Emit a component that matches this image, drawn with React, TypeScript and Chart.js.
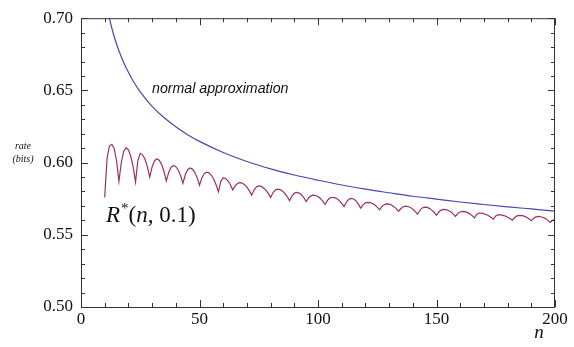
import React, { useEffect, useRef } from 'react';
import { Chart, registerables } from 'chart.js';

Chart.register(...registerables);

// R*(n, 0.1): one value per integer n, starting at n = 10
const rStarStartN = 10;
const rStarRate = [
  0.576, 0.603, 0.6115, 0.6127, 0.6098, 0.6013, 0.587, 0.5999, 0.6077, 0.6103,
  0.6088, 0.6044, 0.597, 0.5866, 0.6014, 0.6064, 0.6054, 0.6023, 0.5972, 0.590,
  0.597, 0.6012, 0.6026, 0.6016, 0.5988, 0.594, 0.5873, 0.5932, 0.5968, 0.598,
  0.5972, 0.5949, 0.5911, 0.5857, 0.5916, 0.5951, 0.5963, 0.5955, 0.5933, 0.5896,
  0.5843, 0.5894, 0.5924, 0.5934, 0.5929, 0.5912, 0.5885, 0.5847, 0.5798, 0.5871,
  0.5895, 0.589, 0.5874, 0.5848, 0.5811, 0.5839, 0.5855, 0.5861, 0.5858, 0.5847,
  0.583, 0.5806, 0.5775, 0.581, 0.5831, 0.5838, 0.5835, 0.5825, 0.581, 0.5787,
  0.5759, 0.5791, 0.581, 0.5816, 0.5813, 0.5803, 0.5787, 0.5765, 0.5736, 0.5768,
  0.5787, 0.5793, 0.5789, 0.5777, 0.5758, 0.573, 0.5755, 0.577, 0.5775, 0.5772,
  0.5765, 0.5752, 0.5733, 0.571, 0.5738, 0.5754, 0.576, 0.5757, 0.575, 0.5737,
  0.5718, 0.5695, 0.5727, 0.5746, 0.5752, 0.5748, 0.5735, 0.5714, 0.5685, 0.5707,
  0.5721, 0.5725, 0.5723, 0.5717, 0.5706, 0.5692, 0.5673, 0.5696, 0.5709, 0.5714,
  0.5712, 0.5706, 0.5695, 0.5681, 0.5662, 0.5682, 0.5694, 0.5698, 0.5696, 0.5689,
  0.5678, 0.5662, 0.5642, 0.567, 0.5686, 0.5692, 0.569, 0.5683, 0.5671, 0.5656,
  0.5635, 0.5658, 0.5671, 0.5676, 0.5674, 0.5668, 0.5659, 0.5645, 0.5628, 0.5647,
  0.5658, 0.5662, 0.566, 0.5655, 0.5646, 0.5633, 0.5617, 0.5643, 0.5651, 0.565,
  0.5646, 0.564, 0.5632, 0.5621, 0.5608, 0.5631, 0.5639, 0.5638, 0.5635, 0.563,
  0.5622, 0.5613, 0.5601, 0.562, 0.5631, 0.5635, 0.5633, 0.5629, 0.5621, 0.5611,
  0.5597, 0.5614, 0.5624, 0.5627, 0.5625, 0.562, 0.5612, 0.56, 0.5585, 0.56,
  0.561,
];

// normal approximation
const normalN = [11, 12, 13, 14, 15, 16, 18, 20, 22, 25, 30, 35, 40, 45, 50, 60, 70, 80, 90, 100, 110, 120, 130, 140, 150, 160, 170, 180, 190, 200];
const normalRate = [0.7075, 0.6998, 0.6932, 0.6873, 0.6821, 0.6774, 0.6693, 0.6625, 0.6565, 0.649, 0.639, 0.6312, 0.6248, 0.6193, 0.6147, 0.607, 0.6008, 0.5957, 0.5914, 0.5878, 0.5845, 0.5816, 0.5791, 0.5767, 0.5747, 0.5727, 0.571, 0.5694, 0.5679, 0.5664];

const xTickLabels = ['0', '50', '100', '150', '200'];
const yTickLabels = ['0.50', '0.55', '0.60', '0.65', '0.70'];

const normalLabel = 'normal approximation';
const xTitle = 'n';
const yTitleLines = ['rate', '(bits)'];

const SERIF = '"Liberation Serif", "DejaVu Serif", serif';
const SANS = '"Liberation Sans", Arial, sans-serif';

const framePlugin = {
  id: 'frameAndText',
  afterDatasetsDraw(chart: any) {
    const { ctx, chartArea, scales } = chart;
    const { left, right, top, bottom } = chartArea;
    const xs = scales.x;
    const ys = scales.y;
    ctx.save();
    ctx.strokeStyle = '#333';
    ctx.lineWidth = 1;
    ctx.strokeRect(left + 0.5, top + 0.5, right - left - 1, bottom - top);
    ctx.beginPath();
    for (let i = 0; i <= 20; i++) {
      const v = 0.5 + i * 0.01;
      const y = Math.round(ys.getPixelForValue(v)) + 0.5;
      const len = i % 5 === 0 ? 7 : 4;
      ctx.moveTo(left, y); ctx.lineTo(left + len, y);
      ctx.moveTo(right, y); ctx.lineTo(right - len, y);
    }
    for (let i = 0; i <= 20; i++) {
      const v = i * 10;
      const x = Math.round(xs.getPixelForValue(v)) + 0.5;
      const len = i % 5 === 0 ? 7 : 4;
      ctx.moveTo(x, bottom); ctx.lineTo(x, bottom - len);
      ctx.moveTo(x, top); ctx.lineTo(x, top + len);
    }
    ctx.stroke();

    ctx.fillStyle = '#111';
    // normal approximation label
    ctx.font = `italic 14.2px ${SANS}`;
    ctx.textAlign = 'left';
    ctx.textBaseline = 'alphabetic';
    ctx.fillText(normalLabel, 152, 93);

    // R*(n, 0.1)
    let x = 106;
    const base = 222;
    ctx.font = `italic 23px ${SERIF}`;
    ctx.fillText('R', x, base);
    x += ctx.measureText('R').width + 1;
    ctx.font = `15px ${SERIF}`;
    ctx.fillText('*', x, base - 9);
    x += ctx.measureText('*').width;
    ctx.font = `23px ${SERIF}`;
    ctx.fillText('(', x, base);
    x += ctx.measureText('(').width;
    ctx.font = `italic 23px ${SERIF}`;
    ctx.fillText('n', x, base);
    x += ctx.measureText('n').width;
    ctx.font = `23px ${SERIF}`;
    ctx.fillText(', 0.1)', x, base);

    // axis titles
    ctx.font = `italic 19px ${SERIF}`;
    ctx.textAlign = 'center';
    ctx.fillText(xTitle, 539, 338);
    ctx.font = `italic 10px ${SERIF}`;
    ctx.fillText(yTitleLines[0], 23, 149);
    ctx.fillText(yTitleLines[1], 23, 162);
    ctx.restore();
  },
};

export default function App() {
  const ref = useRef<HTMLCanvasElement | null>(null);
  useEffect(() => {
    document.body.style.margin = '0';
    const canvas = ref.current;
    if (!canvas) return;
    const chart = new Chart(canvas, {
      type: 'line',
      data: {
        datasets: [
          {
            label: 'normal approximation',
            data: normalN.map((n, i) => ({ x: n, y: normalRate[i] })),
            borderColor: '#4848ae',
            borderWidth: 1.2,
            pointRadius: 0,
            cubicInterpolationMode: 'monotone',
            fill: false,
          },
          {
            label: 'R*(n, 0.1)',
            data: rStarRate.map((r, i) => ({ x: rStarStartN + i, y: r })),
            borderColor: '#9b2f69',
            borderWidth: 1.2,
            pointRadius: 0,
            tension: 0,
            fill: false,
          },
        ],
      },
      options: {
        responsive: false,
        animation: false,
        events: [],
        layout: { padding: { top: 12, right: 19, left: 0, bottom: 0 } },
        plugins: { legend: { display: false }, tooltip: { enabled: false }, title: { display: false } },
        scales: {
          x: {
            type: 'linear',
            min: 0,
            max: 200,
            grid: { display: false, drawTicks: false },
            border: { display: false },
            afterFit: (s: any) => { s.height = 40; },
            ticks: {
              stepSize: 50,
              maxRotation: 0,
              padding: 2,
              color: '#111',
              font: { family: SERIF, size: 17 },
              callback: (v: any, i: number) => xTickLabels[i] ?? String(v),
            },
          },
          y: {
            type: 'linear',
            min: 0.5,
            max: 0.7,
            grid: { display: false, drawTicks: false },
            border: { display: false },
            afterFit: (s: any) => { s.width = 81; },
            ticks: {
              stepSize: 0.05,
              padding: 8,
              color: '#111',
              font: { family: SERIF, size: 17 },
              callback: (v: any, i: number) => yTickLabels[i] ?? String(v),
            },
          },
        },
      },
      plugins: [framePlugin],
    });
    return () => chart.destroy();
  }, []);
  return (
    <div style={{ width: 574, height: 347 }}>
      <canvas ref={ref} width={574} height={347} style={{ display: 'block', width: 574, height: 347 }} />
    </div>
  );
}
